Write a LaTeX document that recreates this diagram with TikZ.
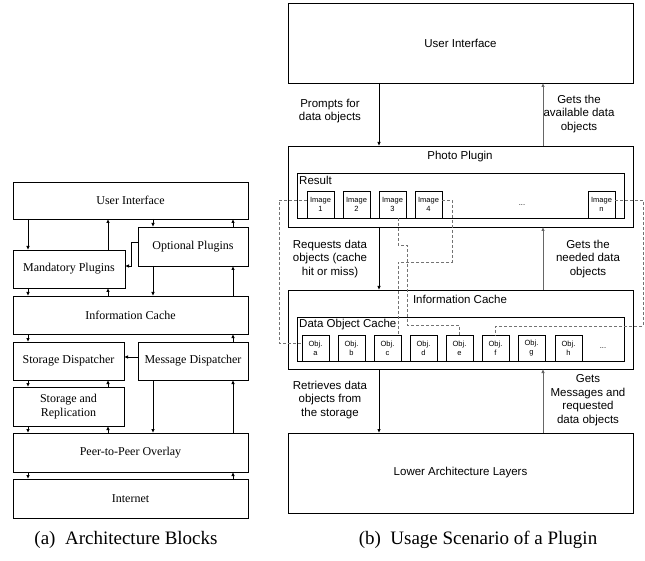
\documentclass[tikz,border=0pt]{standalone}
\usepackage{fontspec}
\setmainfont{Liberation Serif}
\newfontfamily\arialf{Liberation Sans}
\usetikzlibrary{arrows.meta,calc}
\begin{document}
\begin{tikzpicture}[x=1pt,y=-1pt,
  lbox/.style={draw,line width=0.8pt,inner sep=0pt,outer sep=0pt,anchor=north west,align=center,font=\fontsize{12}{14}\selectfont},
  rbox/.style={draw,line width=0.8pt,inner sep=0pt,outer sep=0pt,anchor=north west,align=center,font=\arialf\fontsize{11.5}{13.5}\selectfont},
  ibox/.style={draw,line width=0.8pt,inner sep=0pt,outer sep=0pt,anchor=north west,minimum width=27pt,minimum height=27pt,align=center,font=\arialf\fontsize{7.5}{9}\selectfont},
  rtext/.style={align=center,inner sep=0pt,font=\arialf\fontsize{11.5}{13.5}\selectfont},
  arr/.style={line width=0.8pt,-{Latex[length=4pt,width=3.5pt]}},
  garr/.style={line width=0.8pt,draw=black!60,-{Latex[length=4pt,width=3.5pt]}},
  dsh/.style={line width=0.6pt,draw=black!55,dash pattern=on 3pt off 2pt},
  capt/.style={inner sep=0pt,font=\fontsize{19}{22}\selectfont}
]
\useasboundingbox (0,0) rectangle (645,561);

% ---------- left: architecture blocks ----------
\node[lbox,minimum width=235pt,minimum height=37pt] (lui) at (13,182) {User Interface};
\node[lbox,minimum width=112pt,minimum height=38pt] (mp) at (13,250) {Mandatory Plugins};
\node[lbox,minimum width=110pt,minimum height=39pt] (op) at (138,227) {Optional Plugins};
\node[lbox,minimum width=235pt,minimum height=38pt] (ic) at (13,296) {Information Cache};
\node[lbox,minimum width=111pt,minimum height=38pt] (sd) at (13,342) {Storage Dispatcher};
\node[lbox,minimum width=110pt,minimum height=38pt] (md) at (138,342) {Message Dispatcher};
\node[lbox,minimum width=111pt,minimum height=39pt] (sr) at (13,387) {Storage and\\Replication};
\node[lbox,minimum width=235pt,minimum height=39pt] (pp) at (13,433) {Peer-to-Peer Overlay};
\node[lbox,minimum width=235pt,minimum height=39pt] (inet) at (13,479) {Internet};

\coordinate (c1) at (28,0);
\coordinate (c2) at (108,0);
\coordinate (c3) at (153,0);
\coordinate (c4) at (233,0);

\draw[arr] (lui.south -| c1) -- (mp.north -| c1);
\draw[arr] (mp.north -| c2) -- (lui.south -| c2);
\draw[arr] (lui.south -| c3) -- (op.north -| c3);
\draw[arr] (op.north -| c4) -- (lui.south -| c4);
\draw[arr] ([yshift=4.5pt]op.west) -- ++(-7,0) |- ([yshift=3pt]mp.east);
\draw[arr] (mp.south -| c1) -- (ic.north -| c1);
\draw[arr] (ic.north -| c2) -- (mp.south -| c2);
\draw[arr] (op.south -| c3) -- (ic.north -| c3);
\draw[arr] (ic.north -| c4) -- (op.south -| c4);
\draw[arr] (ic.south -| c1) -- (sd.north -| c1);
\draw[arr] (md.north -| c4) -- (ic.south -| c4);
\draw[arr] ([yshift=4pt]md.west) -- ([yshift=4pt]sd.east);
\draw[arr] (sd.south -| c1) -- (sr.north -| c1);
\draw[arr] (sr.north -| c2) -- (sd.south -| c2);
\draw[arr] (sr.south -| c1) -- (pp.north -| c1);
\draw[arr] (pp.north -| c2) -- (sr.south -| c2);
\draw[arr] (md.south -| c3) -- (pp.north -| c3);
\draw[arr] (pp.north -| c4) -- (md.south -| c4);
\draw[arr] (pp.south -| c1) -- (inet.north -| c1);
\draw[arr] (inet.north -| c4) -- (pp.south -| c4);

\node[capt] (capa) at (126,540) {(a)\hspace{0.5em}Architecture Blocks};

% ---------- right: usage scenario ----------
\node[rbox,minimum width=345pt,minimum height=80pt] (rui) at (288,3) {User Interface};
\node[rbox,minimum width=345pt,minimum height=81pt] (ph) at (288,146) {};
\node[rtext] (phl) at (460,157) {Photo Plugin};
\node[rbox,minimum width=327pt,minimum height=45pt] (res) at (297,173) {};
\node[rtext,anchor=north west] (resl) at (299,176) {Result};
\node[ibox] (im1) at (307,191) {Image\\1};
\node[ibox] (im2) at (343,191) {Image\\2};
\node[ibox] (im3) at (379,191) {Image\\3};
\node[ibox] (im4) at (415,191) {Image\\4};
\node[inner sep=0pt,font=\arialf\fontsize{7.5}{9}\selectfont] (rdots) at (522,205) {...};
\node[ibox] (imn) at (588,191) {Image\\n};

\node[rbox,minimum width=345pt,minimum height=79pt] (ric) at (288,290) {};
\node[rtext] (ricl) at (460,299) {Information Cache};
\node[rbox,minimum width=327pt,minimum height=44pt] (doc) at (297,317) {};
\node[rtext,anchor=north west] (docl) at (299,319) {Data Object Cache};
\node[ibox,minimum height=26pt] (oa) at (302,335) {Obj.\\a};
\node[ibox,minimum height=26pt] (ob) at (338,335) {Obj.\\b};
\node[ibox,minimum height=26pt] (oc) at (374,335) {Obj.\\c};
\node[ibox,minimum height=26pt] (od) at (410,335) {Obj.\\d};
\node[ibox,minimum height=26pt] (oe) at (446,335) {Obj.\\e};
\node[ibox,minimum height=26pt] (of) at (482,335) {Obj.\\f};
\node[ibox,minimum height=26pt] (og) at (518,335) {Obj.\\g};
\node[ibox,minimum height=26pt] (oh) at (555,335) {Obj.\\h};
\node[inner sep=0pt,font=\arialf\fontsize{7.5}{9}\selectfont] (odots) at (603,348) {...};

\node[rbox,minimum width=345pt,minimum height=80pt] (low) at (288,433) {Lower Architecture Layers};

\coordinate (r1) at (379,0);
\coordinate (r2) at (543,0);
\draw[arr] (rui.south -| r1) -- (ph.north -| r1);
\draw[garr] (ph.north -| r2) -- (rui.south -| r2);
\draw[arr] (ph.south -| r1) -- (ric.north -| r1);
\draw[garr] (ric.north -| r2) -- (ph.south -| r2);
\draw[arr] (ric.south -| r1) -- (low.north -| r1);
\draw[garr] (low.north -| r2) -- (ric.south -| r2);

\node[rtext] (t1) at (330,111) {Prompts for\\data objects};
\node[rtext] (t2) at (579,114) {Gets the\\available data\\objects};
\node[rtext] (t3) at (330,259) {Requests data\\objects (cache\\hit or miss)};
\node[rtext] (t4) at (588,259) {Gets the\\needed data\\objects};
\node[rtext] (t5) at (330,400) {Retrieves data\\objects from\\the storage};
\node[rtext] (t6) at (588,400) {Gets\\Messages and\\requested\\data objects};

% dashed mapping lines
\draw[dsh] ([yshift=4.5pt]im1.west) -- ++(-28,0) |- ([yshift=5pt]oa.west);
\draw[dsh] ([xshift=5.5pt]im3.south) -- ++(0,27) -- ++(9,0) -- ++(0,80) -| (oe.north);
\draw[dsh] ([yshift=4.5pt]im4.east) -- ++(10,0) -- ++(0,62) -| ([xshift=10.5pt]oc.north);
\draw[dsh] ([yshift=4.5pt]imn.east) -- ++(28,0) -- ++(0,126) -| (of.north);

\node[capt] (capb) at (478,540) {(b)\hspace{0.5em}Usage Scenario of a Plugin};
\end{tikzpicture}
\end{document}
